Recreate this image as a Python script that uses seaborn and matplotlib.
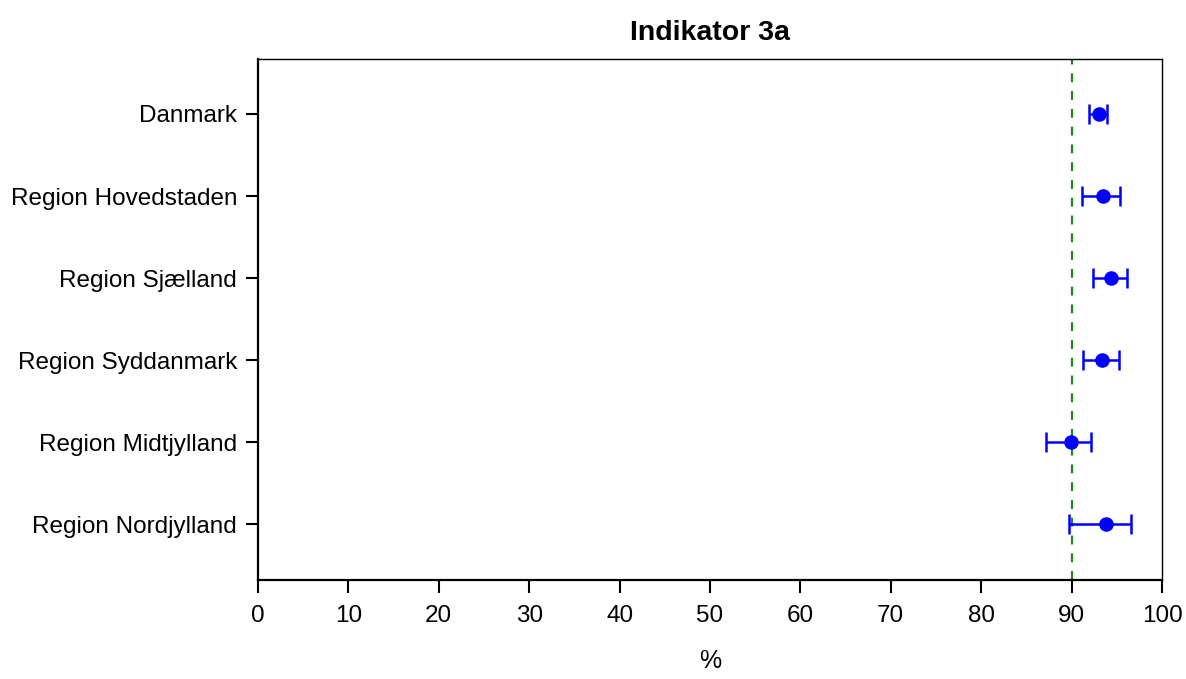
import pandas as pd
import numpy as np
import matplotlib
matplotlib.use('Agg')
import matplotlib.pyplot as plt
import seaborn as sns

# data (percent)
regions = ['Danmark', 'Region Hovedstaden', 'Region Sjælland',
           'Region Syddanmark', 'Region Midtjylland', 'Region Nordjylland']
estimate = [93.0, 93.5, 94.4, 93.4, 89.9, 93.8]
lower = [91.9, 91.2, 92.4, 91.3, 87.2, 89.7]
upper = [93.9, 95.4, 96.1, 95.2, 92.2, 96.6]
target = 90
xticks = list(range(0, 101, 10))

df = pd.DataFrame({'region': regions, 'est': estimate, 'lo': lower, 'hi': upper})
df['pos'] = np.arange(len(df))

sns.set_style('white')
plt.rcParams['font.family'] = ['Liberation Sans', 'DejaVu Sans']

fig = plt.figure(figsize=(11.86, 6.79), dpi=100)
ax = fig.add_axes([258 / 1186, 1 - 580 / 679, (1162 - 258) / 1186, (580 - 59) / 679])

# konfidensintervaller
ax.errorbar(df['est'], df['pos'],
            xerr=[df['est'] - df['lo'], df['hi'] - df['est']],
            fmt='none', ecolor='blue', elinewidth=1.8, capsize=7, capthick=1.8, zorder=2)
sns.scatterplot(data=df, x='est', y='pos', color='blue', s=110, edgecolor='blue',
                linewidth=0, ax=ax, zorder=3)
ax.axvline(target, color='#1a8a1a', linestyle=(0, (4, 4)), linewidth=1.6, zorder=1)

ax.set_xlim(0, 100)
ax.set_ylim(len(df) - 1 + 0.68, -0.67)
ax.set_xticks(xticks)
ax.set_yticks(df['pos'])
ax.set_yticklabels(regions)
ax.tick_params(axis='both', direction='out', length=9, width=1.5, labelsize=17.5,
               left=True, bottom=True, colors='black', pad=6)
ax.tick_params(axis='x', pad=9)
ax.set_xlabel('%', fontsize=18, labelpad=16, color='black')
ax.set_ylabel('')
ax.set_title('Indikator 3a', fontsize=20.5, fontweight='bold', pad=14, color='black')

for side in ['left', 'bottom']:
    ax.spines[side].set_linewidth(1.6)
    ax.spines[side].set_color('black')
for side in ['top', 'right']:
    ax.spines[side].set_linewidth(1.0)
    ax.spines[side].set_color('black')

fig.savefig('out.png', dpi=100)
